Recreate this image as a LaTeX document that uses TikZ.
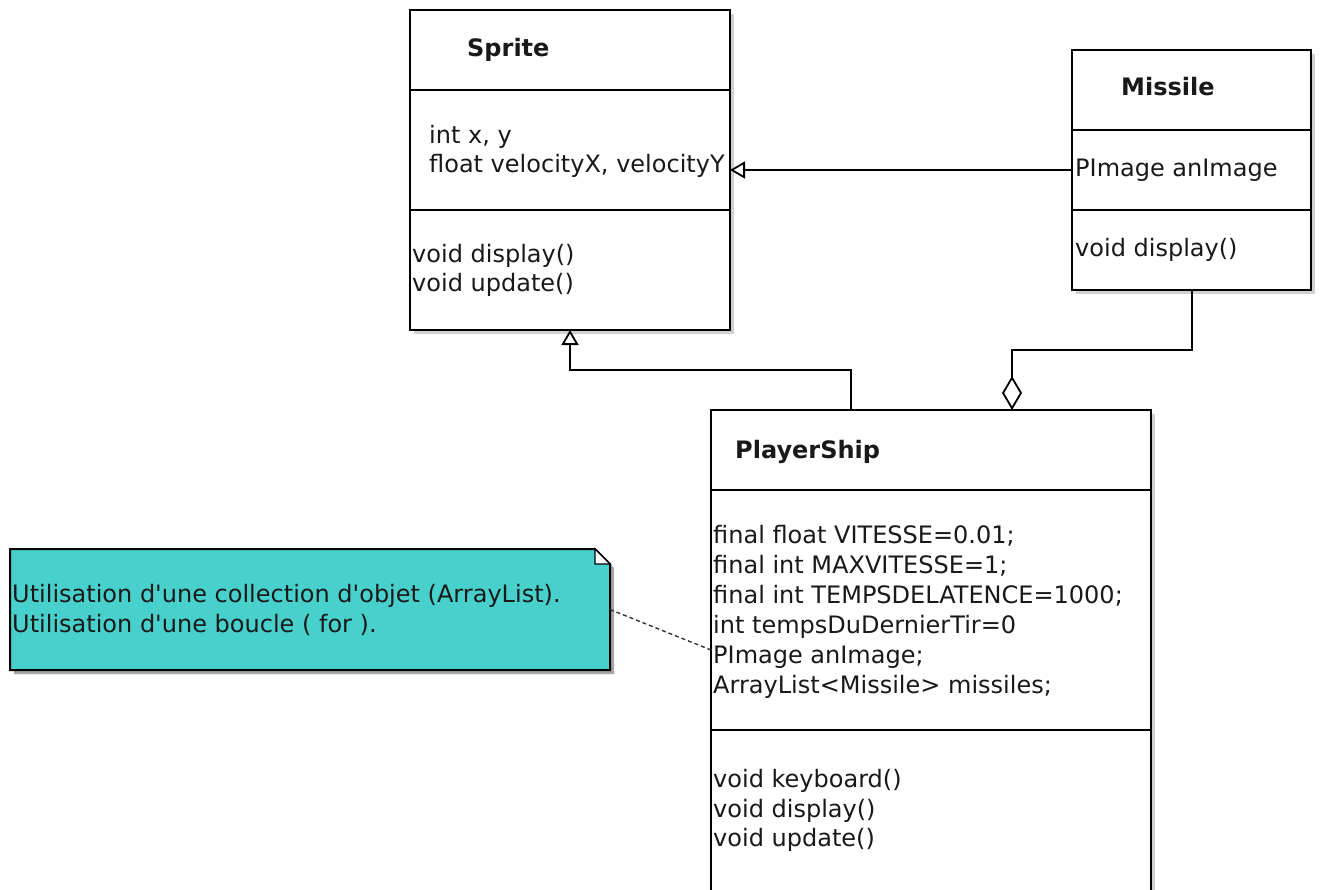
\documentclass[tikz,border=0pt]{standalone}
\usepackage{fontspec}
\newfontfamily\umlfont{DejaVu Sans}
\usetikzlibrary{arrows.meta,shadows,calc}
\definecolor{notefill}{RGB}{72,209,204}
\definecolor{shadowc}{RGB}{208,208,208}
\begin{document}
\begin{tikzpicture}[x=1pt,y=-1pt,
  classbox/.style={draw=black, line width=2pt, fill=white, inner sep=0pt, outer sep=0pt,
     general shadow={fill=shadowc, shadow xshift=4pt, shadow yshift=-4pt}},
  sepline/.style={line width=2pt},
  txt/.style={anchor=base west, inner sep=0pt, font=\umlfont\fontsize{24}{29}\selectfont, text=black!90},
  title/.style={txt, font=\umlfont\bfseries\fontsize{24}{29}\selectfont},
  gen/.style={line width=2pt, -{Triangle[open, length=15pt, width=17pt, line width=1.8pt]}},
  agg/.style={line width=2pt, -{Diamond[open, length=34pt, width=20pt, line width=1.8pt]}},
  notelink/.style={line width=1.4pt, dashed, dash pattern=on 4pt off 3pt, draw=black!80}]
\useasboundingbox (0,0) rectangle (1324,890);
\fill[white] (0,0) rectangle (1324,890);

% Sprite
\node[classbox, anchor=north west, minimum width=320pt, minimum height=320pt] (sprite) at (410,10) {};
\draw[sepline] (sprite.west |- 0,90) -- (sprite.east |- 0,90);
\draw[sepline] (sprite.west |- 0,210) -- (sprite.east |- 0,210);
\node[title] (spritet) at (467,57) {Sprite};
\node[txt] (spritea1) at (429,144) {int x, y};
\node[txt] (spritea2) at (429,173) {float velocityX, velocityY};
\node[txt] (spritem1) at (412,263) {void display()};
\node[txt] (spritem2) at (412,292) {void update()};

% Missile
\node[classbox, anchor=north west, minimum width=239pt, minimum height=240pt] (missile) at (1072,50) {};
\draw[sepline] (missile.west |- 0,130) -- (missile.east |- 0,130);
\draw[sepline] (missile.west |- 0,210) -- (missile.east |- 0,210);
\node[title] (missilet) at (1121,96) {Missile};
\node[txt] (missilea1) at (1075,177) {PImage anImage};
\node[txt] (missilem1) at (1075,257) {void display()};

% PlayerShip
\node[classbox, anchor=north west, minimum width=440pt, minimum height=500pt] (ps) at (711,410) {};
\draw[sepline] (ps.west |- 0,490) -- (ps.east |- 0,490);
\draw[sepline] (ps.west |- 0,730) -- (ps.east |- 0,730);
\node[title] (pst) at (735,458) {PlayerShip};
\node[txt] (psa1) at (713,543) {final float VITESSE=0.01;};
\node[txt] (psa2) at (713,573) {final int MAXVITESSE=1;};
\node[txt] (psa3) at (713,603) {final int TEMPSDELATENCE=1000;};
\node[txt] (psa4) at (713,633) {int tempsDuDernierTir=0};
\node[txt] (psa5) at (713,663) {PImage anImage;};
\node[txt] (psa6) at (713,693) {ArrayList<Missile> missiles;};
\node[txt] (psm1) at (713,787) {void keyboard()};
\node[txt] (psm2) at (713,817) {void display()};
\node[txt] (psm3) at (713,846) {void update()};

% Note
\node[inner sep=0pt, outer sep=0pt, anchor=north west, minimum width=600pt, minimum height=121pt] (note) at (10,549) {};
\fill[shadowc!80!black] ($(note.north west)+(4,4)$) -- ($(note.north east)+(-11,4)$) -- ($(note.north east)+(4,19)$) -- ($(note.south east)+(4,4)$) -- ($(note.south west)+(4,4)$) -- cycle;
\draw[line width=2pt, fill=notefill] (note.north west) -- ($(note.north east)+(-15,0)$) -- ($(note.north east)+(0,15)$) -- (note.south east) -- (note.south west) -- cycle;
\draw[line width=1.4pt, fill=white] ($(note.north east)+(-15,0)$) -- ($(note.north east)+(-15,15)$) -- ($(note.north east)+(0,15)$) -- cycle;
\node[txt] (notel1) at (12,602) {Utilisation d'une collection d'objet (ArrayList).};
\node[txt] (notel2) at (12,632) {Utilisation d'une boucle ( for ).};

% Connectors
\coordinate (psnote) at (711,650);
\draw[notelink] (note.east) -- (psnote);
\draw[gen] (missile.west) -- (sprite.east);
\draw[gen] ([xshift=140pt]ps.north west) -- ++(0,-40) -| (sprite.south);
\draw[agg] (missile.south) -- ++(0,60) -| ([xshift=301pt]ps.north west);
\end{tikzpicture}
\end{document}
